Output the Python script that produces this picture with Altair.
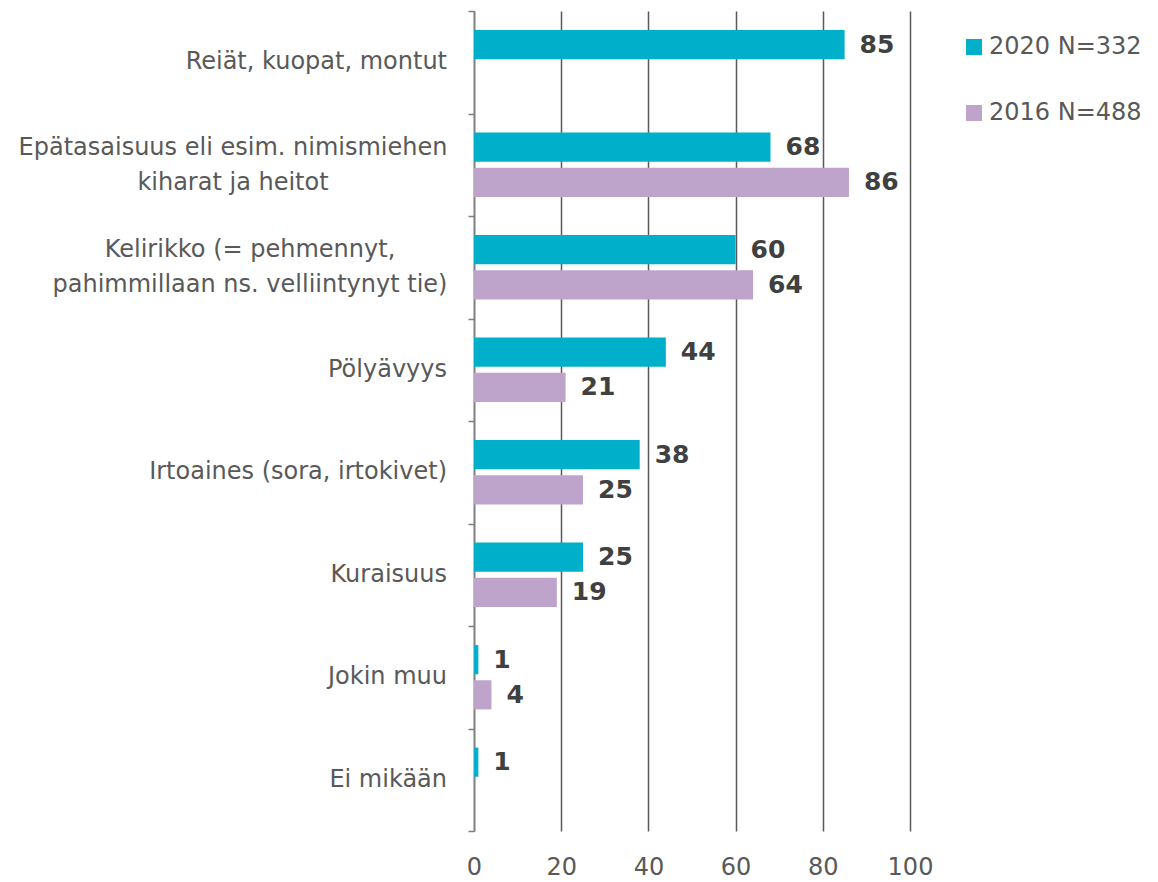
import altair as alt
import pandas as pd

categories = [
    "Reiät, kuopat, montut",
    "Epätasaisuus eli esim. nimismiehen|kiharat ja heitot",
    "Kelirikko (= pehmennyt,|pahimmillaan ns. velliintynyt tie)",
    "Pölyävyys",
    "Irtoaines (sora, irtokivet)",
    "Kuraisuus",
    "Jokin muu",
    "Ei mikään",
]
values_2020 = [85, 68, 60, 44, 38, 25, 1, 1]
values_2016 = [None, 86, 64, 21, 25, 19, 4, None]
series = ["2020 N=332", "2016 N=488"]
colors = ["#00B0CA", "#BEA4CB"]

rows = []
for c, v in zip(categories, values_2020):
    if v is not None:
        rows.append({"cat": c, "series": series[0], "value": v})
for c, v in zip(categories, values_2016):
    if v is not None:
        rows.append({"cat": c, "series": series[1], "value": v})
df = pd.DataFrame(rows)
cat_df = pd.DataFrame({"cat": categories})

FONT = "DejaVu Sans"
LABEL_COLOR = "#595959"

y_scale = alt.Scale(domain=categories, paddingInner=0, paddingOuter=0)

y_enc = alt.Y(
    "cat:N",
    sort=categories,
    title=None,
    scale=y_scale,
    axis=alt.Axis(
        labels=False,
        tickBand="extent",
        tickSize=6,
        tickColor="#7f7f7f",
        tickWidth=1.5,
        domainColor="#7f7f7f",
        domainWidth=1.5,
        grid=False,
    ),
)
yoff_enc = alt.YOffset(
    "series:N",
    sort=series,
    scale=alt.Scale(paddingInner=0.171, paddingOuter=0.543),
)
x_enc = alt.X(
    "value:Q",
    title=None,
    scale=alt.Scale(domain=[0, 100], nice=False),
    axis=alt.Axis(
        values=[0, 20, 40, 60, 80, 100],
        labelFontSize=24,
        labelColor=LABEL_COLOR,
        labelFont=FONT,
        labelPadding=24,
        labelFlush=False,
        ticks=False,
        domain=False,
        grid=True,
        gridColor="#595959",
        gridWidth=1.5,
    ),
)

bars = alt.Chart(df).mark_bar().encode(
    x=x_enc,
    y=y_enc,
    yOffset=yoff_enc,
    color=alt.Color(
        "series:N",
        sort=series,
        scale=alt.Scale(domain=series, range=colors),
        legend=alt.Legend(
            title=None,
            orient="none",
            legendX=488,
            legendY=24,
            symbolType="square",
            symbolSize=256,
            symbolStrokeWidth=0,
            labelFontSize=24,
            labelFont=FONT,
            labelColor=LABEL_COLOR,
            labelOffset=3,
            rowPadding=42,
        ),
    ),
)

values_text = alt.Chart(df).mark_text(
    align="left", baseline="middle", dx=15, fontSize=25, fontWeight="bold",
    font=FONT, color="#404040",
).encode(
    x="value:Q",
    y=alt.Y("cat:N", sort=categories, scale=y_scale),
    yOffset=alt.YOffset("series:N", sort=series),
    text="value:Q",
)

# category labels (drawn as text so two-line labels can be centred)
single = alt.Chart(cat_df).transform_filter(
    "indexof(datum.cat, '|') < 0"
).mark_text(
    align="right", baseline="middle", fontSize=24, font=FONT, color=LABEL_COLOR,
).encode(
    x=alt.value(-27),
    y=alt.Y("cat:N", sort=categories, scale=y_scale),
    text="cat:N",
)


def two_line(prefix, xpix):
    return alt.Chart(cat_df).transform_filter(
        f"indexof(datum.cat, '{prefix}') == 0"
    ).mark_text(
        align="center", baseline="middle", fontSize=24, font=FONT,
        color=LABEL_COLOR, lineBreak="|", lineHeight=35, dy=-17,
    ).encode(
        x=alt.value(xpix),
        y=alt.Y("cat:N", sort=categories, scale=y_scale),
        text="cat:N",
    )


chart = (
    alt.layer(
        bars, values_text, single,
        two_line("Epä", -241), two_line("Keli", -224),
    )
    .properties(
        width=436,
        height=820,
        autosize=alt.AutoSizeParams(type="none"),
        padding={"left": 466, "top": 3, "right": 240, "bottom": 48},
    )
    .configure_view(stroke=None)
)

chart.save("out.html", embed_options={"renderer": "svg", "actions": False})
